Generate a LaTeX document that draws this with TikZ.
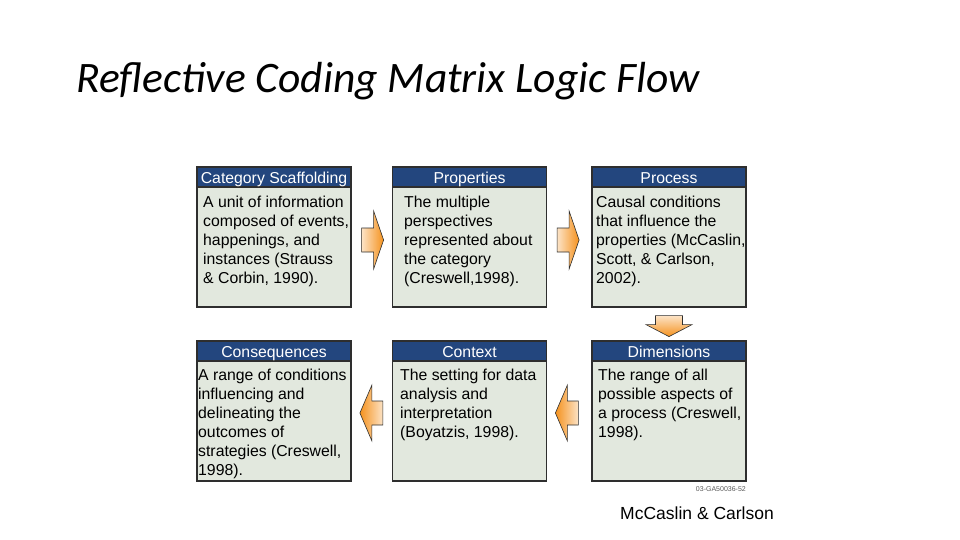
\documentclass[tikz,border=0pt]{standalone}
\usepackage{fontspec}
\setmainfont{Liberation Sans}
\newfontfamily\titlefont{Carlito}
\usetikzlibrary{positioning,calc}
\definecolor{navy}{HTML}{23467E}
\definecolor{bodyfill}{HTML}{E2E8DE}
\definecolor{edge}{HTML}{2E2E2E}
\definecolor{arrorange}{HTML}{F5921E}
\definecolor{arrlight}{HTML}{FCE3C6}
\tikzset{
  box/.style={draw=edge, line width=1.2pt, fill=bodyfill, minimum width=154pt, minimum height=140pt, inner sep=0pt},
  hdr/.style={fill=navy, draw=edge, line width=1.2pt, text=white, minimum width=154pt, minimum height=20pt, text height=13pt, text depth=1pt, inner sep=0pt, anchor=north, font=\fontsize{15.8}{19}\selectfont},
  txt/.style={anchor=north west, inner sep=0pt, align=left, font=\fontsize{15.8}{19}\selectfont},
  blockarrow/.style={draw=edge, line width=0.6pt},
  rarr/.pic={\shade[blockarrow, left color=arrlight, right color=arrorange] (-12,-12) -- (0,-12) -- (0,-29) -- (10,0) -- (0,29) -- (0,12) -- (-12,12) -- cycle;},
  larr/.pic={\shade[blockarrow, right color=arrlight, left color=arrorange] (11,-12) -- (0,-12) -- (0,-28) -- (-12,0) -- (0,28) -- (0,12) -- (11,12) -- cycle;},
  darr/.pic={\shade[blockarrow, top color=arrlight, bottom color=arrorange] (-13.5,-9) -- (13.5,-9) -- (13.5,0) -- (23,0) -- (0,12) -- (-23,0) -- (-13.5,0) -- cycle;}
}
\begin{document}
\begin{tikzpicture}[x=1pt, y=-1pt]
\useasboundingbox[fill=white] (0,0) rectangle (960,540);
\node[anchor=base west, inner sep=0pt, font=\titlefont\itshape\fontsize{43.5}{50}\selectfont] (title) at (76,93) {Reflective Coding Matrix Logic Flow};

% top row
\node[box] (cat) at (274,237) {};
\node[hdr] (cath) at (cat.north) {Category Scaffolding};
\node[box] (prop) at (469.5,237) {};
\node[hdr] (proph) at (prop.north) {Properties};
\node[box] (proc) at (669,237) {};
\node[hdr] (proch) at (proc.north) {Process};
% bottom row
\node[box] (cons) at (274,411) {};
\node[hdr] (consh) at (cons.north) {Consequences};
\node[box] (cont) at (469.5,411) {};
\node[hdr] (conth) at (cont.north) {Context};
\node[box] (dims) at (669,411) {};
\node[hdr] (dimsh) at (dims.north) {Dimensions};

% texts
\node[txt] (catt) at (203,196) {A unit of information\\composed of events,\\happenings, and\\instances (Strauss\\\& Corbin, 1990).};
\node[txt] (propt) at (404,196) {The multiple\\perspectives\\represented about\\the category\\(Creswell,1998).};
\node[txt] (proct) at (596,196) {Causal conditions\\that influence the\\properties (McCaslin,\\Scott, \& Carlson,\\2002).};
\node[txt] (const) at (198,369) {A range of conditions\\influencing and\\delineating the\\outcomes of\\strategies (Creswell,\\1998).};
\node[txt] (contt) at (400,369) {The setting for data\\analysis and\\interpretation\\(Boyatzis, 1998).};
\node[txt] (dimst) at (598,369) {The range of all\\possible aspects of\\a process (Creswell,\\1998).};

% block arrows
\pic at ($(cat.east)+(22,3)$) {rarr};
\pic at ($(prop.east)+(22,3)$) {rarr};
\pic at ($(proc.south)+(0,17)$) {darr};
\pic at ($(dims.west)+(-24,2)$) {larr};
\pic at ($(cont.west)+(-20,2)$) {larr};

\node[anchor=base east, inner sep=0pt, text=black!65, font=\fontsize{7}{8}\selectfont] (code) at (746,491) {03-GA50036-52};
\node[anchor=base west, inner sep=0pt, font=\fontsize{17.5}{20}\selectfont] (credit) at (620,519) {McCaslin \& Carlson};
\end{tikzpicture}
\end{document}
